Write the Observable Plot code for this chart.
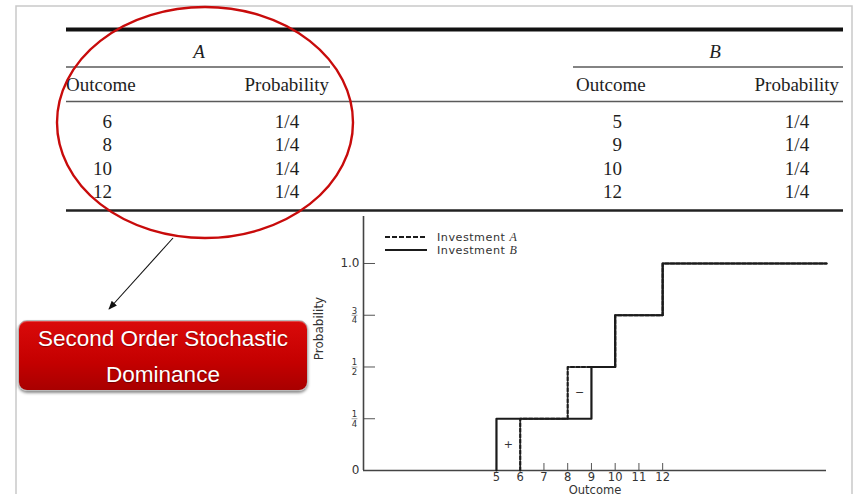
<!DOCTYPE html>
<html>
<head>
<meta charset="utf-8">
<script src="https://cdn.jsdelivr.net/npm/d3@7"></script>
<script src="https://cdn.jsdelivr.net/npm/@observablehq/plot@0.6"></script>
<style>
  html, body { margin: 0; padding: 0; background: #fff; }
  #page { position: relative; width: 856px; height: 494px; overflow: hidden; background: #fff; }
  #page > * { position: absolute; left: 0; top: 0; }
  #btn {
    left: 18px; top: 320px; width: 290px; height: 71px;
    border-radius: 9px;
    background: linear-gradient(#da0a0a, #c40000 60%, #a80000);
    border: 1px solid #b9b9b9;
    box-shadow: 0 2px 3px rgba(0,0,0,0.45), inset 0 1px 0 rgba(255,255,255,0.25);
    color: #fff; text-align: center;
    font-family: "Liberation Sans", Arial, sans-serif; font-size: 22.5px;
    line-height: 36px; box-sizing: border-box;
    text-shadow: 0 1px 1px rgba(0,0,0,0.35);
  }
</style>
</head>
<body>
<div id="page">
  <svg id="bg" width="856" height="494"></svg>
  <div id="plot"></div>
  <div id="btn"></div>
  <svg id="fg" width="856" height="494"></svg>
</div>
<script>
// ---------------- data ----------------
const tableTitles = ["A", "B"];
const headers = ["Outcome", "Probability"];
const outcomesA = [6, 8, 10, 12];
const probsA = ["1/4", "1/4", "1/4", "1/4"];
const outcomesB = [5, 9, 10, 12];
const probsB = ["1/4", "1/4", "1/4", "1/4"];
const seriesNames = ["Investment A", "Investment B"];
const xTicks = [5, 6, 7, 8, 9, 10, 11, 12];
const yTicks = [0, 0.25, 0.5, 0.75, 1];
const yTickLabels = ["0", "1/4", "1/2", "3/4", "1.0"];
const signX = [5.5, 8.5];
const signY = [0.125, 0.375];
const signText = ["+", "\u2212"];
const buttonLines = ["Second Order Stochastic", "Dominance"];
const xLabel = "Outcome";
const yLabel = "Probability";

// scale configuration
const xDomain = [-0.6, 18.9];
const yDomain = [0, 1.227];

const frac = s => { const [n, d] = s.split("/").map(Number); return n / d; };

function cdfSteps(outcomes, probs) {
  let c = 0;
  const pts = [{x: outcomes[0], y: 0}];
  outcomes.forEach((o, i) => { c += frac(probs[i]); pts.push({x: o, y: c}); });
  pts.push({x: xDomain[1], y: c});
  return pts;
}
const stepsA = cdfSteps(outcomesA, probsA);
const stepsB = cdfSteps(outcomesB, probsB);

const tickData = yTicks.map((v, i) => ({v, label: yTickLabels[i]}));
const decTicks = tickData.filter(d => !d.label.includes("/"));
const fracTicks = tickData.filter(d => d.label.includes("/"))
  .map(d => ({v: d.v, num: d.label.split("/")[0], den: d.label.split("/")[1]}));
const signs = signText.map((t, i) => ({x: signX[i], y: signY[i], t}));

// ---------------- background: frame + table ----------------
const bg = d3.select("#bg");
bg.append("rect").attr("x", 16).attr("y", 6).attr("width", 836).attr("height", 520)
  .attr("fill", "none").attr("stroke", "#c9c9c9").attr("stroke-width", 1.5);

const serif = "'Liberation Serif', 'Times New Roman', serif";
const tcol = "#1e1e1e";
const hline = (x1, x2, y, w, c) => bg.append("line").attr("x1", x1).attr("x2", x2)
  .attr("y1", y).attr("y2", y).attr("stroke", c).attr("stroke-width", w);
hline(66, 843, 29.5, 4, "#111");
hline(66, 330, 67, 1.5, "#5a5a5a");
hline(573, 843, 67, 1.5, "#5a5a5a");
hline(66, 843, 101.5, 1.5, "#5a5a5a");
hline(66, 843, 210.5, 2.5, "#222");

const txt = (x, y, s, anchor, italic) => bg.append("text").attr("x", x).attr("y", y)
  .attr("text-anchor", anchor).attr("font-family", serif).attr("font-size", 19)
  .attr("font-style", italic ? "italic" : "normal").attr("fill", tcol).text(s);

const tables = [
  {title: tableTitles[0], tx: 199, outX: 112, probX: 287, hOut: 66, hProb: 329, outs: outcomesA, probs: probsA},
  {title: tableTitles[1], tx: 715, outX: 622, probX: 797, hOut: 576, hProb: 839, outs: outcomesB, probs: probsB}
];
const rowY = [121, 144.5, 168, 191.5];
tables.forEach(t => {
  txt(t.tx, 57.5, t.title, "middle", true);
  txt(t.hOut, 90.5, headers[0], "start");
  txt(t.hProb, 90.5, headers[1], "end");
  t.outs.forEach((o, i) => {
    txt(t.outX, rowY[i] + 6.5, String(o), "end");
    txt(t.probX, rowY[i] + 6.5, t.probs[i], "middle");
  });
});

// ---------------- plot ----------------
const ink = "#1b1b1b";
const barShape = {draw(ctx, l) { ctx.moveTo(0, 0); ctx.lineTo(0, -l); }};
const chart = Plot.plot({
  width: 856, height: 494,
  marginLeft: 363, marginRight: 30, marginTop: 216, marginBottom: 24,
  x: {domain: xDomain},
  y: {domain: yDomain},
  style: {background: "transparent", fontFamily: "'DejaVu Sans', sans-serif", fontSize: "12px", color: "#333"},
  marks: [
    Plot.axisX({ticks: xTicks, tickSize: -7, tickFormat: () => "", label: null, stroke: "#555"}),
    Plot.axisX({ticks: xTicks, tickSize: 0, tickPadding: 2, label: null, fill: "#333", fontSize: 11.5}),
    Plot.axisY({ticks: yTicks, tickSize: -12, tickFormat: () => "", label: null, stroke: "#555"}),
    Plot.ruleY([0], {stroke: "#444", strokeWidth: 1.6}),
    Plot.ruleX([xDomain[0]], {stroke: "#444", strokeWidth: 1.6}),
    Plot.text(decTicks, {y: "v", text: "label", frameAnchor: "left", dx: -4, textAnchor: "end", fontSize: 12, fill: "#333"}),
    Plot.text(fracTicks, {y: "v", text: d => d.num + "\n" + d.den, frameAnchor: "left", dx: -9, textAnchor: "middle", fontSize: 8.5, lineHeight: 1.12, fill: "#333"}),
    Plot.vector(fracTicks, {y: "v", frameAnchor: "left", dx: -9, rotate: 90, length: 5, anchor: "middle", shape: barShape, stroke: "#888", strokeWidth: 0.8}),
    Plot.line(stepsA, {x: "x", y: "y", curve: "step-after", stroke: ink, strokeWidth: 2.2, strokeDasharray: "3.5,2"}),
    Plot.line(stepsB, {x: "x", y: "y", curve: "step-after", stroke: ink, strokeWidth: 2.2}),
    Plot.text(signs, {x: "x", y: "y", text: "t", fontSize: 11, fill: "#333"}),
    Plot.text([xLabel], {text: d => d, frameAnchor: "bottom", lineAnchor: "middle", dy: 19.5, fontSize: 11.5, fill: "#333"}),
    Plot.text([yLabel], {text: d => d, frameAnchor: "left", textAnchor: "middle", lineAnchor: "middle", rotate: -90, dx: -44, dy: -15, fontSize: 12, fill: "#333"})
  ]
});
document.getElementById("plot").appendChild(chart);

// ---------------- button ----------------
d3.select("#btn").html(buttonLines.join("<br>"));

// ---------------- foreground: ellipse, arrow, legend ----------------
const fg = d3.select("#fg");
fg.append("defs").append("marker").attr("id", "arr").attr("viewBox", "0 0 10 10")
  .attr("refX", 9).attr("refY", 5).attr("markerWidth", 8).attr("markerHeight", 8)
  .attr("orient", "auto-start-reverse")
  .append("path").attr("d", "M0,1 L10,5 L0,9 z").attr("fill", "#111");
fg.append("ellipse").attr("cx", 205).attr("cy", 122.5).attr("rx", 148).attr("ry", 115.5)
  .attr("fill", "none").attr("stroke", "#c80b0b").attr("stroke-width", 2.4);
fg.append("line").attr("x1", 173).attr("y1", 238).attr("x2", 109).attr("y2", 309)
  .attr("stroke", "#111").attr("stroke-width", 1.1).attr("marker-end", "url(#arr)");

const legend = [
  {name: seriesNames[0], dash: "5,2", y: 237},
  {name: seriesNames[1], dash: null, y: 250}
];
legend.forEach(l => {
  fg.append("line").attr("x1", 385).attr("x2", 427).attr("y1", l.y).attr("y2", l.y)
    .attr("stroke", ink).attr("stroke-width", 2).attr("stroke-dasharray", l.dash);
  const parts = l.name.split(" ");
  const t = fg.append("text").attr("x", 437).attr("y", l.y + 4)
    .attr("font-family", "'DejaVu Sans', sans-serif").attr("font-size", 11.2)
    .attr("letter-spacing", 0.5).attr("fill", "#333");
  t.append("tspan").text(parts[0] + " ");
  t.append("tspan").attr("font-style", "italic").attr("font-family", "'Liberation Serif', serif").attr("font-size", 12).text(parts[1]);
});
</script>
</body>
</html>
